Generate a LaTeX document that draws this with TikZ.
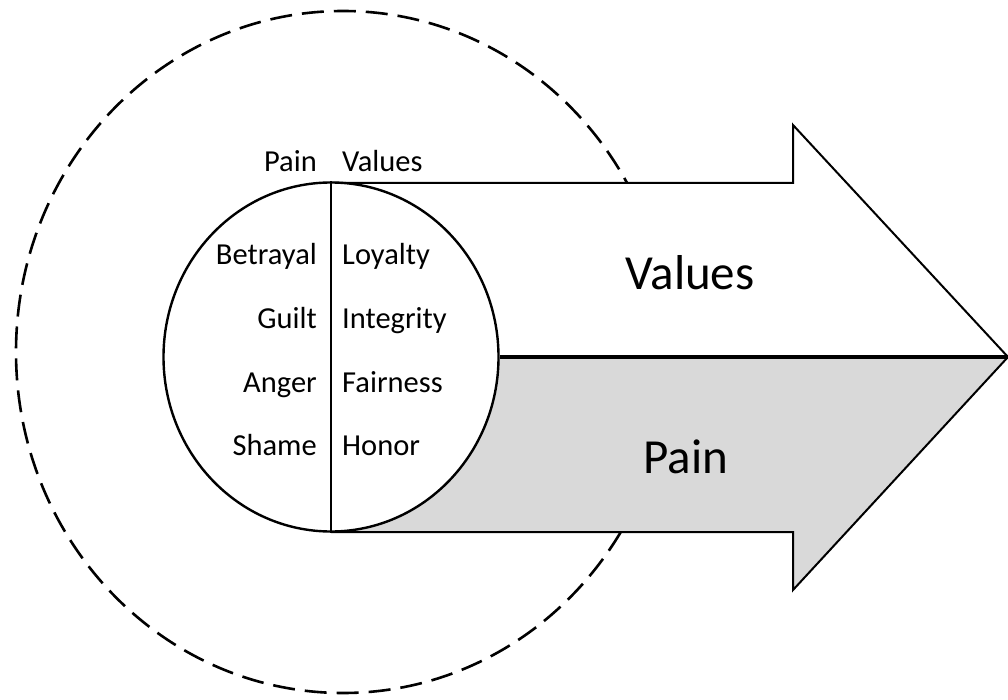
\documentclass[tikz,border=0pt]{standalone}
\usepackage{fontspec}
\setmainfont{Carlito}
\usetikzlibrary{shapes.geometric}
\definecolor{paingrey}{RGB}{217,217,217}
\tikzset{
  word/.style={inner sep=0pt, font=\fontsize{30.5}{36}\selectfont},
  bigword/.style={inner sep=0pt, font=\fontsize{49}{58}\selectfont},
  outline/.style={draw=black, line width=2pt, line join=miter},
}
\begin{document}
\begin{tikzpicture}[x=1pt,y=-1pt]
\useasboundingbox (0,0) rectangle (1008,700);
% dashed halo
\node[ellipse, draw, dashed, dash pattern=on 22pt off 10pt, line width=2.6pt, inner sep=0pt,
      minimum width=654pt, minimum height=682pt] (halo) at (343,352) {};
% arrow coordinates
\coordinate (tTop) at (331,183);
\coordinate (hTopIn) at (793,183);
\coordinate (hTop) at (793,125);
\coordinate (tip) at (1008,357);
\coordinate (hBot) at (793,590);
\coordinate (hBotIn) at (793,532);
\coordinate (tBot) at (331,532);
\coordinate (mid) at (331,357);
% arrow body
\fill[white] (tTop) -- (hTopIn) -- (hTop) -- (tip) -- (hBot) -- (hBotIn) -- (tBot) -- cycle;
\fill[paingrey] (mid) -- (tip) -- (hBot) -- (hBotIn) -- (tBot) -- cycle;
\draw[outline] (tTop) -- (hTopIn) -- (hTop) -- (tip) -- (hBot) -- (hBotIn) -- (tBot);
% core circle
\node[ellipse, draw, fill=white, line width=2.4pt, inner sep=0pt,
      minimum width=335pt, minimum height=349pt] (core) at (mid) {};
\draw[line width=4pt] (core.east) -- (tip);
\draw[line width=1.3pt] (core.north) -- (core.south);
% headers
\node[word, anchor=base east] (hpain) at (317,172) {Pain};
\node[word, anchor=base west] (hvalues) at (342,172) {Values};
% left column
\node[word, anchor=base east] (p1) at (317,265) {Betrayal};
\node[word, anchor=base east] (p2) at (317,328) {Guilt};
\node[word, anchor=base east] (p3) at (317,392) {Anger};
\node[word, anchor=base east] (p4) at (317,455) {Shame};
% right column
\node[word, anchor=base west] (v1) at (342,265) {Loyalty};
\node[word, anchor=base west] (v2) at (342,328) {Integrity};
\node[word, anchor=base west] (v3) at (342,392) {Fairness};
\node[word, anchor=base west] (v4) at (342,455) {Honor};
% big labels
\node[bigword, anchor=base] (bigvalues) at (690,290) {Values};
\node[bigword, anchor=base] (bigpain) at (686,473) {Pain};
\end{tikzpicture}
\end{document}
